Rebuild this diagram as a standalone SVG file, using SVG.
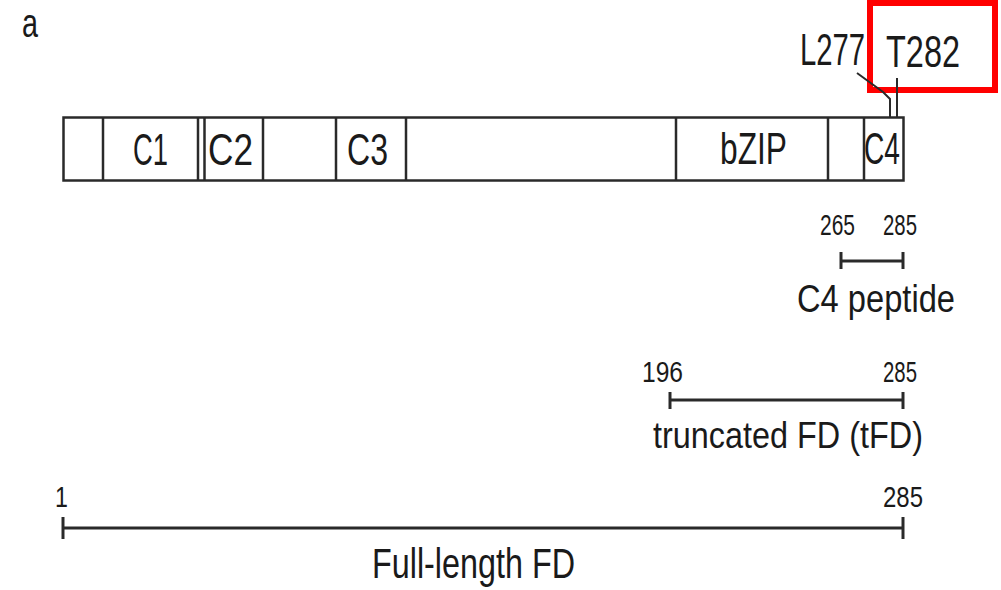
<svg xmlns="http://www.w3.org/2000/svg" width="1001" height="590" viewBox="0 0 1001 590">
<style>
text{font-family:"Liberation Sans",Arial,sans-serif;fill:#1a1a1a}
.lbl{font-size:44px}
.num{font-size:29px}
.box{fill:none;stroke:#2a2a2a;stroke-width:2.5}
.div{stroke:#2a2a2a;stroke-width:2.5}
.bar{stroke:#2a2a2a;stroke-width:3;fill:none}
.lead{stroke:#2a2a2a;stroke-width:2;fill:none}
</style>
<rect width="1001" height="590" fill="#ffffff"/>
<text x="22" y="37" font-size="40" textLength="16" lengthAdjust="spacingAndGlyphs">a</text>
<g id="protein">
<rect class="box" x="63.5" y="117.5" width="840" height="63"/>
<line class="div" x1="103" y1="117.5" x2="103" y2="180.5"/>
<line class="div" x1="198" y1="117.5" x2="198" y2="180.5"/>
<line class="div" x1="204.5" y1="117.5" x2="204.5" y2="180.5"/>
<line class="div" x1="263" y1="117.5" x2="263" y2="180.5"/>
<line class="div" x1="336" y1="117.5" x2="336" y2="180.5"/>
<line class="div" x1="406" y1="117.5" x2="406" y2="180.5"/>
<line class="div" x1="676" y1="117.5" x2="676" y2="180.5"/>
<line class="div" x1="828" y1="117.5" x2="828" y2="180.5"/>
<line class="div" x1="864" y1="117.5" x2="864" y2="180.5"/>
<text class="lbl" x="133" y="165" textLength="35" lengthAdjust="spacingAndGlyphs">C1</text>
<text class="lbl" x="208" y="165" textLength="45" lengthAdjust="spacingAndGlyphs">C2</text>
<text class="lbl" x="347" y="165" textLength="41" lengthAdjust="spacingAndGlyphs">C3</text>
<text class="lbl" x="720" y="164" textLength="67" lengthAdjust="spacingAndGlyphs">bZIP</text>
<text class="lbl" x="864" y="164" textLength="36" lengthAdjust="spacingAndGlyphs">C4</text>
</g>
<g id="site-L277">
<text class="lbl" transform="translate(800,65) scale(0.665,1)">L277</text>
</g>
<g id="site-T282">
<text class="lbl" transform="translate(886,67) scale(0.738,1)">T282</text>
<rect x="870" y="3" width="125" height="87" fill="none" stroke="#ff0000" stroke-width="6"/>
</g>
<g id="connectors">
<polyline class="lead" points="857,73 883,92 890,99 890,117"/>
<line class="lead" x1="897" y1="78" x2="897" y2="117"/>
</g>
<g id="c4-peptide">
<text class="num" x="820" y="235" textLength="35" lengthAdjust="spacingAndGlyphs">265</text>
<text class="num" x="883" y="235" textLength="34" lengthAdjust="spacingAndGlyphs">285</text>
<line class="bar" x1="841" y1="261" x2="903" y2="261"/>
<line class="bar" x1="841" y1="252" x2="841" y2="269"/>
<line class="bar" x1="903" y1="252" x2="903" y2="269"/>
<text x="797" y="312" font-size="38" textLength="158" lengthAdjust="spacingAndGlyphs">C4 peptide</text>
</g>
<g id="tfd">
<text class="num" x="642" y="382" textLength="41" lengthAdjust="spacingAndGlyphs">196</text>
<text class="num" x="883" y="382" textLength="34" lengthAdjust="spacingAndGlyphs">285</text>
<line class="bar" x1="670" y1="400" x2="903" y2="400"/>
<line class="bar" x1="670" y1="392" x2="670" y2="409"/>
<line class="bar" x1="903" y1="392" x2="903" y2="409"/>
<text x="653" y="448" font-size="36" textLength="270" lengthAdjust="spacingAndGlyphs">truncated FD (tFD)</text>
</g>
<g id="full-length">
<text class="num" transform="translate(55,507) scale(0.8,1)">1</text>
<text class="num" x="883" y="507" textLength="40" lengthAdjust="spacingAndGlyphs">285</text>
<line class="bar" x1="63" y1="528" x2="903" y2="528"/>
<line class="bar" x1="63" y1="517" x2="63" y2="539"/>
<line class="bar" x1="903" y1="517" x2="903" y2="539"/>
<text x="372" y="578" font-size="42" textLength="203" lengthAdjust="spacingAndGlyphs">Full-length FD</text>
</g>
</svg>
